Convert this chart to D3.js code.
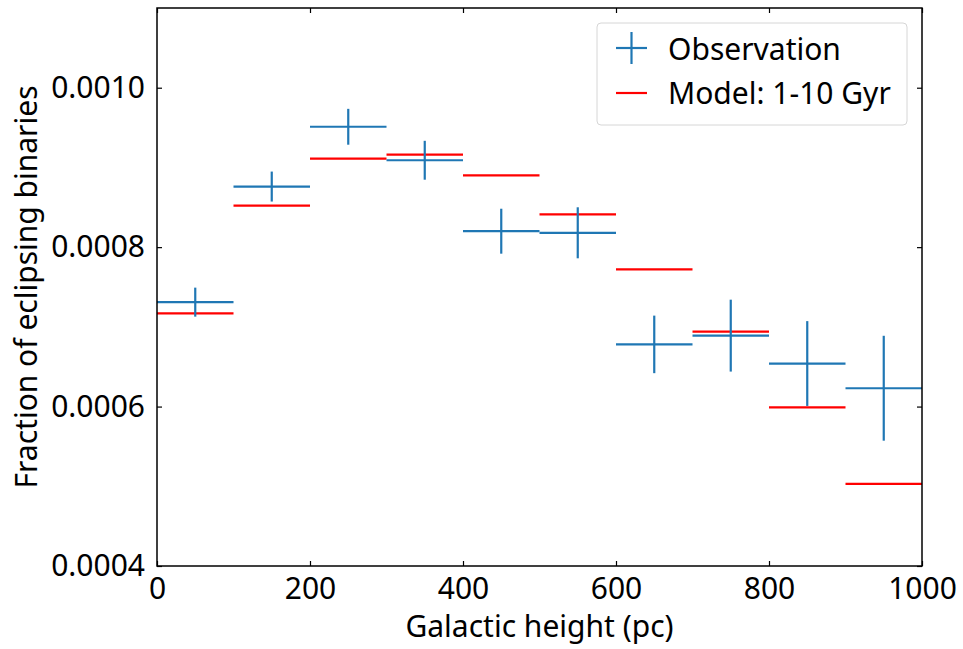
<!DOCTYPE html>
<html>
<head>
<meta charset="utf-8">
<script src="https://cdn.jsdelivr.net/npm/d3@7"></script>
<style>
  body { margin: 0; background: #fff; }
  svg text { font-family: "Noto Sans", "Open Sans", sans-serif; fill: #000; }
</style>
</head>
<body>
<svg id="chart"></svg>
<script>
const binEdges = [0, 100, 200, 300, 400, 500, 600, 700, 800, 900, 1000];
const obsValues = [0.000731, 0.000876, 0.000951, 0.000909, 0.000820, 0.000818, 0.000678, 0.000689, 0.000654, 0.000623];
const obsErrors = [0.0000182, 0.0000188, 0.0000225, 0.0000244, 0.0000282, 0.000032, 0.0000361, 0.0000451, 0.0000532, 0.0000658];
const modelValues = [0.000717, 0.000852, 0.000911, 0.000916, 0.000890, 0.000841, 0.000772, 0.000694, 0.000599, 0.000503];
const xTicks = [0, 200, 400, 600, 800, 1000];
const yTicks = [0.0004, 0.0006, 0.0008, 0.0010];

const width = 963;
const height = 649;
const margin = { top: 8, right: 41, bottom: 83, left: 157 };
const fontSize = 30;

const blue = "#1f77b4";
const red = "#ff0000";

const svg = d3.select("#chart").attr("width", width).attr("height", height);

const x = d3.scaleLinear().domain([0, 1000]).range([margin.left, width - margin.right]);
const y = d3.scaleLinear().domain([0.0004, 0.0011]).range([height - margin.bottom, margin.top]);

const bins = obsValues.map((v, i) => ({
  x0: binEdges[i],
  x1: binEdges[i + 1],
  obs: v,
  err: obsErrors[i],
  model: modelValues[i]
}));

// axes with inward ticks on all four sides
const tickLen = 5;
svg.append("g")
  .attr("transform", `translate(0,${y.range()[0]})`)
  .call(d3.axisBottom(x).tickValues(xTicks).tickSizeInner(-tickLen).tickSizeOuter(0).tickPadding(12).tickFormat(d3.format("d")))
  .call((g) => g.select(".domain").remove())
  .call((g) => g.selectAll("text").attr("font-size", fontSize));

svg.append("g")
  .attr("transform", `translate(0,${y.range()[1]})`)
  .call(d3.axisTop(x).tickValues(xTicks).tickSizeInner(-tickLen).tickSizeOuter(0).tickFormat(""))
  .call((g) => g.select(".domain").remove());

svg.append("g")
  .attr("transform", `translate(${x.range()[0]},0)`)
  .call(d3.axisLeft(y).tickValues(yTicks).tickSizeInner(-tickLen).tickSizeOuter(0).tickPadding(12).tickFormat(d3.format(".4f")))
  .call((g) => g.select(".domain").remove())
  .call((g) => g.selectAll("text").attr("font-size", fontSize));

svg.append("g")
  .attr("transform", `translate(${x.range()[1]},0)`)
  .call(d3.axisRight(y).tickValues(yTicks).tickSizeInner(-tickLen).tickSizeOuter(0).tickFormat(""))
  .call((g) => g.select(".domain").remove());

svg.selectAll(".tick line").attr("stroke", "#000").attr("stroke-width", 1.2);

// model (red horizontal bars)
svg.append("g")
  .selectAll("line")
  .data(bins)
  .join("line")
  .attr("x1", (d) => x(d.x0))
  .attr("x2", (d) => x(d.x1))
  .attr("y1", (d) => y(d.model))
  .attr("y2", (d) => y(d.model))
  .attr("stroke", red)
  .attr("stroke-width", 2.2);

// observations (blue crosses)
const obs = svg.append("g");
obs.selectAll("line.h")
  .data(bins)
  .join("line")
  .attr("class", "h")
  .attr("x1", (d) => x(d.x0))
  .attr("x2", (d) => x(d.x1))
  .attr("y1", (d) => y(d.obs))
  .attr("y2", (d) => y(d.obs))
  .attr("stroke", blue)
  .attr("stroke-width", 2.2);
obs.selectAll("line.v")
  .data(bins)
  .join("line")
  .attr("class", "v")
  .attr("x1", (d) => x((d.x0 + d.x1) / 2))
  .attr("x2", (d) => x((d.x0 + d.x1) / 2))
  .attr("y1", (d) => y(d.obs - d.err))
  .attr("y2", (d) => y(d.obs + d.err))
  .attr("stroke", blue)
  .attr("stroke-width", 2.2);

// frame
svg.append("rect")
  .attr("x", x.range()[0])
  .attr("y", y.range()[1])
  .attr("width", x.range()[1] - x.range()[0])
  .attr("height", y.range()[0] - y.range()[1])
  .attr("fill", "none")
  .attr("stroke", "#000")
  .attr("stroke-width", 1.5);

// axis labels
svg.append("text")
  .attr("x", (x.range()[0] + x.range()[1]) / 2)
  .attr("y", 637)
  .attr("text-anchor", "middle")
  .attr("font-size", fontSize)
  .text("Galactic height (pc)");

svg.append("text")
  .attr("transform", `translate(37,${(y.range()[0] + y.range()[1]) / 2}) rotate(-90)`)
  .attr("text-anchor", "middle")
  .attr("font-size", fontSize)
  .text("Fraction of eclipsing binaries");

// legend
const legend = svg.append("g").attr("transform", "translate(597,23)");
legend.append("rect")
  .attr("width", 310)
  .attr("height", 102)
  .attr("rx", 4)
  .attr("fill", "#fff")
  .attr("fill-opacity", 0.8)
  .attr("stroke", "#d6d6d6")
  .attr("stroke-width", 1);

legend.append("line").attr("x1", 19).attr("x2", 50).attr("y1", 25).attr("y2", 25).attr("stroke", blue).attr("stroke-width", 2.2);
legend.append("line").attr("x1", 34.5).attr("x2", 34.5).attr("y1", 9).attr("y2", 41).attr("stroke", blue).attr("stroke-width", 2.2);
legend.append("text").attr("x", 71).attr("y", 37).attr("font-size", fontSize).text("Observation");

legend.append("line").attr("x1", 19).attr("x2", 50).attr("y1", 70).attr("y2", 70).attr("stroke", red).attr("stroke-width", 2.2);
legend.append("text").attr("x", 71).attr("y", 81).attr("font-size", fontSize).text("Model: 1-10 Gyr");
</script>
</body>
</html>
